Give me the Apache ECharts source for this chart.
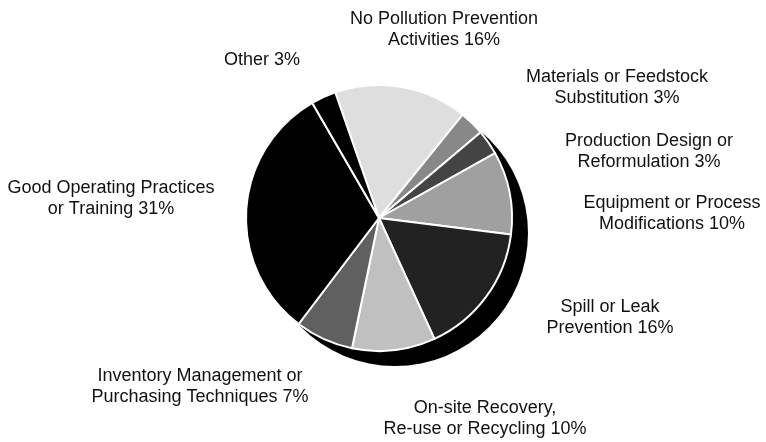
<!DOCTYPE html>
<html>
<head>
<meta charset="utf-8">
<script src="https://cdn.jsdelivr.net/npm/echarts@6/dist/echarts.min.js"></script>
<style>
    html, body { margin: 0; padding: 0; background: #fff; }
    #chart { width: 766px; height: 442px; }
</style>
</head>
<body>
<div id="chart"></div>
<script>
// slice names (line breaks as in the picture), clockwise from the top
const categories = [
    'No Pollution Prevention\nActivities',
    'Materials or Feedstock\nSubstitution',
    'Production Design or\nReformulation',
    'Equipment or Process\nModifications',
    'Spill or Leak\nPrevention',
    'On-site Recovery,\nRe-use or Recycling',
    'Inventory Management or\nPurchasing Techniques',
    'Good Operating Practices\nor Training',
    'Other'
];
const values = [16, 3, 3, 10, 16, 10, 7, 31, 3];
const colors = ['#dedede', '#888888', '#444444', '#a0a0a0', '#222222', '#c0c0c0', '#606060', '#000000', '#000000'];

// where each label block is centred
const labelPos = [
    [444, 30], [617, 88], [649, 152], [672, 214], [610, 318],
    [485, 419], [200, 387], [111, 199], [262, 60]
];

const chart = echarts.init(document.getElementById('chart'));

const seriesData = categories.map((name, i) => {
    return {
        name: name,
        value: values[i],
        itemStyle: { color: colors[i] }
    };
});

const option = {
    backgroundColor: '#fff',
    animation: false,
    series: [
        {
            // drop shadow behind the pie
            type: 'pie',
            silent: true,
            center: [395, 233],
            radius: 133,
            label: { show: false },
            labelLine: { show: false },
            itemStyle: { color: '#000' },
            data: [{ value: 1 }]
        },
        {
            type: 'pie',
            center: [379, 218],
            radius: 133,
            startAngle: 109.2,
            avoidLabelOverlap: false,
            itemStyle: {
                borderColor: '#fff',
                borderWidth: 2
            },
            label: {
                show: true,
                position: 'outside',
                formatter: '{b} {c}%',
                color: '#111',
                fontFamily: 'Liberation Sans, Arial, sans-serif',
                fontSize: 18,
                lineHeight: 21,
                align: 'center'
            },
            labelLine: { show: false },
            labelLayout: function (params) {
                const p = labelPos[params.dataIndex];
                return { x: p[0], y: p[1], align: 'center', verticalAlign: 'middle' };
            },
            data: seriesData
        }
    ]
};

chart.setOption(option);
</script>
</body>
</html>
